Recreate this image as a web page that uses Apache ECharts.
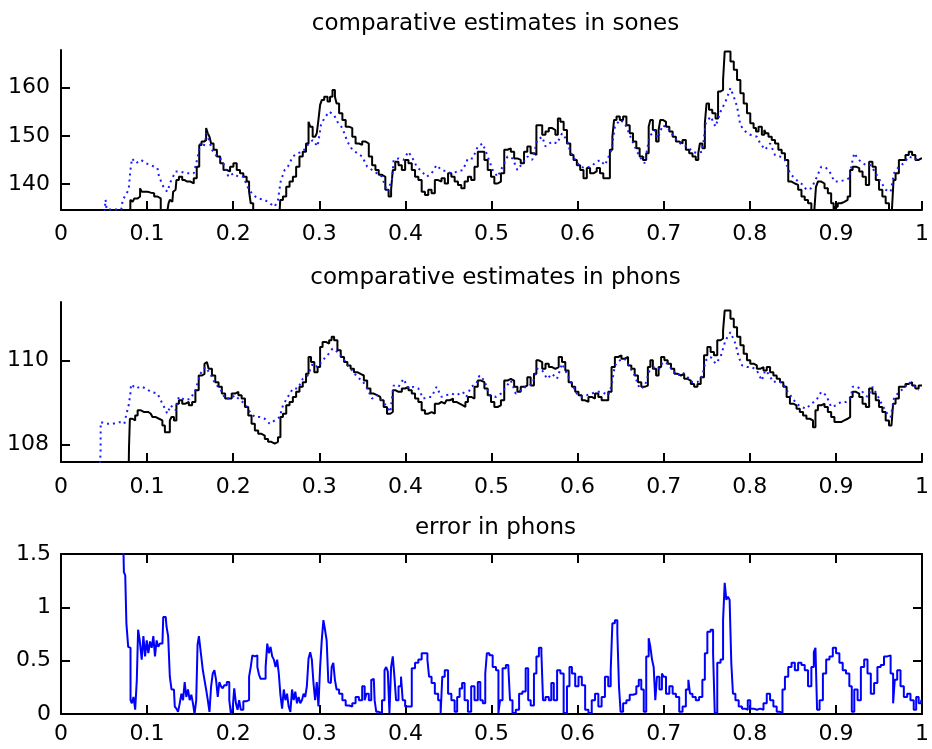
<!DOCTYPE html>
<html>
<head>
<meta charset="utf-8">
<script src="https://cdn.jsdelivr.net/npm/echarts@6/dist/echarts.min.js"></script>
<style>
html,body{margin:0;padding:0;background:#fff;}
#chart{width:932px;height:749px;}
</style>
</head>
<body>
<div id="chart"></div>
<script>
// ---------- data (x in 0..1) ----------
var titles = ['comparative estimates in sones', 'comparative estimates in phons', 'error in phons'];
var xTicks = [0, 0.1, 0.2, 0.3, 0.4, 0.5, 0.6, 0.7, 0.8, 0.9, 1];
var sonesTicks = [140, 150, 160];
var phonsTicks = [108, 110];
var errorTicks = [0, 0.5, 1, 1.5];

var sonesExact = [[0.0805,133],[0.0806,136.7],[0.0832,136.3],[0.0871,137.0],[0.0909,137.4],[0.0928,139.1],[0.0947,138.4],[0.0986,138.4],[0.1024,138.2],[0.1063,138.1],[0.1101,137.4],[0.1139,137.0],[0.1178,134.6],[0.12,133],[0.1245,133],[0.1254,136.0],[0.1274,136.7],[0.1293,136.3],[0.1312,138.4],[0.1331,138.8],[0.135,140.8],[0.1389,141.5],[0.1427,140.8],[0.1446,140.5],[0.1485,140.5],[0.1523,140.1],[0.1561,141.2],[0.1592,143.6],[0.1619,148.1],[0.1646,148.8],[0.1676,149.1],[0.1695,151.6],[0.1715,150.5],[0.1734,149.8],[0.1753,148.4],[0.1791,147.1],[0.183,145.7],[0.1868,144.3],[0.1906,142.9],[0.1945,142.6],[0.1983,143.6],[0.2022,144.3],[0.206,142.9],[0.2098,142.2],[0.2137,141.5],[0.2175,140.5],[0.2194,138.4],[0.2213,136.0],[0.2252,133],[0.2535,133],[0.2558,136.7],[0.2597,137.4],[0.2635,139.4],[0.2674,140.5],[0.2712,141.5],[0.275,143.6],[0.2789,145.7],[0.2827,146.7],[0.2865,148.4],[0.2885,152.9],[0.2904,151.9],[0.2942,149.8],[0.2961,149.5],[0.298,150.5],[0.3,153.3],[0.3019,156.4],[0.3038,157.4],[0.3076,158.1],[0.3115,157.1],[0.3134,158.1],[0.3172,159.5],[0.3191,158.1],[0.3211,156.7],[0.3249,154.7],[0.3287,153.3],[0.3326,151.9],[0.3364,151.6],[0.3402,149.8],[0.3441,148.4],[0.3479,148.1],[0.3517,148.8],[0.3556,148.4],[0.3594,145.7],[0.3633,143.9],[0.3671,142.9],[0.3709,141.9],[0.3748,141.5],[0.3786,138.8],[0.3824,137.4],[0.3844,138.8],[0.3863,142.9],[0.3901,144.6],[0.3939,143.9],[0.3978,142.9],[0.4016,145.0],[0.4055,144.3],[0.4093,142.9],[0.4131,141.5],[0.417,140.8],[0.4208,138.4],[0.4246,137.7],[0.4285,138.8],[0.4323,138.1],[0.4361,140.8],[0.44,140.5],[0.4438,141.2],[0.4476,140.1],[0.4515,142.2],[0.4553,141.5],[0.4591,140.5],[0.463,139.8],[0.4668,139.1],[0.4707,140.5],[0.4745,141.5],[0.4783,140.8],[0.4822,143.6],[0.486,146.7],[0.4898,146.7],[0.4937,145.0],[0.4975,142.9],[0.5014,141.5],[0.5052,140.1],[0.509,140.5],[0.5129,142.2],[0.5167,147.1],[0.5205,147.4],[0.5244,146.7],[0.5282,145.3],[0.532,145.0],[0.5359,144.3],[0.5397,146.7],[0.5435,147.8],[0.5474,146.4],[0.5512,146.0],[0.5531,152.2],[0.557,152.2],[0.5608,150.2],[0.5646,150.9],[0.5685,151.6],[0.5723,151.2],[0.5761,150.2],[0.5781,153.6],[0.5819,152.9],[0.5857,151.2],[0.5896,148.4],[0.5934,146.0],[0.5972,145.0],[0.6011,143.9],[0.6049,142.9],[0.6088,141.2],[0.6126,143.3],[0.6164,142.2],[0.6203,142.6],[0.6241,143.3],[0.6279,142.2],[0.6318,141.2],[0.6356,141.2],[0.6394,147.1],[0.6414,149.8],[0.6433,153.3],[0.6471,154.0],[0.6509,153.3],[0.6548,154.0],[0.6586,152.2],[0.6624,150.5],[0.6663,148.8],[0.6701,147.4],[0.674,145.7],[0.6778,145.0],[0.6816,146.4],[0.6835,151.9],[0.6855,153.3],[0.6893,151.2],[0.6931,148.8],[0.6951,151.2],[0.697,153.3],[0.7008,152.9],[0.7046,151.9],[0.7085,150.9],[0.7123,149.8],[0.7161,148.8],[0.72,148.4],[0.7238,149.1],[0.7277,147.1],[0.7315,146.4],[0.7353,145.7],[0.7392,145.0],[0.7411,146.4],[0.743,148.4],[0.7468,147.4],[0.7488,152.6],[0.7507,156.7],[0.7545,155.4],[0.7583,154.7],[0.7622,153.6],[0.7641,159.2],[0.768,159.5],[0.7699,161.6],[0.7718,167.5],[0.7756,167.5],[0.7795,165.4],[0.7833,163.7],[0.7871,161.6],[0.791,158.8],[0.7948,156.7],[0.7986,154.7],[0.8025,152.6],[0.8063,151.6],[0.8082,150.9],[0.8121,151.9],[0.8159,150.2],[0.8178,151.2],[0.8197,150.5],[0.8236,149.8],[0.8274,149.1],[0.8312,148.4],[0.8351,147.1],[0.8389,146.4],[0.8427,145.0],[0.8466,140.5],[0.8504,140.1],[0.8542,139.8],[0.8581,138.8],[0.8619,137.4],[0.8657,136.7],[0.8696,136.0],[0.8734,134.6],[0.8753,133],[0.8765,133],[0.8772,139.4],[0.881,140.5],[0.8849,140.1],[0.8887,139.1],[0.8926,138.1],[0.8964,136.0],[0.8983,134.6],[0.9002,135.3],[0.9041,136.0],[0.9079,136.3],[0.9117,136.7],[0.9156,137.4],[0.9175,142.9],[0.9214,143.6],[0.9252,143.3],[0.929,142.6],[0.9329,141.5],[0.9367,139.8],[0.9405,144.6],[0.9444,143.6],[0.9482,140.8],[0.952,138.8],[0.9559,137.4],[0.9597,136.0],[0.9636,134.6],[0.9655,133],[0.9665,133],[0.9674,140.8],[0.9712,142.2],[0.9751,145.0],[0.9789,145.0],[0.9827,146.0],[0.9866,146.7],[0.9904,146.0],[0.9942,145.0],[0.9981,145.3],[1.0,145.3]];

var sonesEstimate = [[0.05,133],[0.0518,136.7],[0.053,134.7],[0.07,134.7],[0.0717,136.7],[0.0786,138.8],[0.0806,142.9],[0.0825,145.3],[0.0871,144.3],[0.0928,145.0],[0.0986,144.3],[0.1043,143.9],[0.112,143.3],[0.1139,141.5],[0.1197,139.1],[0.1235,138.4],[0.1274,140.5],[0.1331,142.6],[0.1389,142.6],[0.1446,142.2],[0.1485,142.2],[0.1542,142.2],[0.158,145.0],[0.1619,148.4],[0.1657,147.8],[0.1695,150.5],[0.1753,147.1],[0.1811,145.7],[0.1868,145.0],[0.1945,141.5],[0.2002,142.2],[0.206,141.5],[0.2117,141.5],[0.2175,139.1],[0.2232,137.7],[0.229,137.0],[0.2367,136.7],[0.2424,136.0],[0.2482,135.3],[0.252,136.7],[0.2551,140.5],[0.2597,142.9],[0.2635,143.6],[0.2693,145.7],[0.275,146.4],[0.2808,146.7],[0.2865,148.1],[0.2923,149.1],[0.298,147.8],[0.3019,152.2],[0.3057,153.6],[0.3115,155.0],[0.3172,154.3],[0.3211,152.9],[0.3268,151.6],[0.3326,148.8],[0.3383,147.1],[0.3441,146.4],[0.3498,145.7],[0.3556,143.6],[0.3613,142.9],[0.3671,142.2],[0.3728,141.5],[0.3786,138.4],[0.3844,140.8],[0.3863,145.0],[0.392,145.3],[0.3978,145.0],[0.4035,146.7],[0.4093,145.0],[0.4131,143.6],[0.4189,142.6],[0.4246,141.5],[0.4304,142.2],[0.4361,143.9],[0.4419,142.9],[0.4476,142.6],[0.4534,142.2],[0.4611,142.6],[0.4668,142.9],[0.4726,145.3],[0.4783,145.3],[0.4841,147.8],[0.4898,148.4],[0.4956,145.7],[0.5014,142.9],[0.5071,141.5],[0.5129,143.6],[0.5186,145.7],[0.5244,145.3],[0.5301,142.9],[0.5359,144.3],[0.5416,145.7],[0.5474,145.0],[0.5531,149.1],[0.5589,149.8],[0.5627,147.8],[0.5704,148.8],[0.5761,148.4],[0.5819,150.5],[0.5876,149.1],[0.5915,146.7],[0.5972,145.0],[0.603,143.6],[0.6088,143.3],[0.6145,143.6],[0.6203,144.3],[0.626,145.0],[0.6318,143.9],[0.6394,147.1],[0.6433,151.9],[0.649,153.3],[0.6548,152.6],[0.6605,150.2],[0.6663,147.8],[0.672,145.7],[0.6778,144.3],[0.6835,149.8],[0.6893,151.2],[0.6931,149.5],[0.6989,152.2],[0.7046,151.6],[0.7104,150.2],[0.7161,148.8],[0.7219,148.1],[0.7277,147.8],[0.7334,146.7],[0.7392,146.4],[0.7449,146.7],[0.7488,152.6],[0.7545,154.0],[0.7602,151.9],[0.766,155.0],[0.7718,157.1],[0.7775,159.9],[0.7814,158.1],[0.7852,156.1],[0.789,152.2],[0.7948,150.9],[0.8006,150.2],[0.8082,149.8],[0.8121,148.4],[0.8178,147.1],[0.8236,148.4],[0.8293,146.0],[0.8351,145.7],[0.8408,145.0],[0.8466,142.2],[0.8504,141.5],[0.8562,140.5],[0.8619,139.8],[0.8657,138.8],[0.8715,139.1],[0.8772,141.2],[0.883,143.6],[0.8887,143.3],[0.8926,142.6],[0.8983,140.5],[0.9041,140.5],[0.9098,140.8],[0.9156,141.2],[0.9194,145.0],[0.9214,146.4],[0.9252,145.3],[0.929,144.6],[0.9348,143.9],[0.9405,143.9],[0.9463,142.2],[0.952,140.5],[0.9578,138.8],[0.9636,138.4],[0.9674,142.2],[0.9731,143.6],[0.9789,144.3],[0.9847,145.7],[0.9904,145.3],[0.9962,145.0]];

var phonsExact = [[0.0786,107.4],[0.0794,107.94],[0.0806,108.61],[0.0852,108.57],[0.0871,108.69],[0.0909,108.81],[0.0947,108.77],[0.0986,108.77],[0.1043,108.73],[0.1082,108.65],[0.112,108.61],[0.1158,108.57],[0.1197,108.45],[0.1216,108.29],[0.1254,108.29],[0.1274,108.57],[0.1293,108.65],[0.1331,108.57],[0.135,108.97],[0.1389,109.05],[0.1427,108.97],[0.1465,109.01],[0.1504,108.93],[0.1542,109.01],[0.158,109.29],[0.1619,109.64],[0.1657,109.68],[0.1676,109.92],[0.1695,109.96],[0.1734,109.80],[0.1772,109.64],[0.1811,109.48],[0.1849,109.37],[0.1887,109.21],[0.1926,109.09],[0.1964,109.09],[0.2002,109.21],[0.2041,109.25],[0.2079,109.17],[0.2117,109.09],[0.2156,108.89],[0.2194,108.69],[0.2232,108.49],[0.2271,108.33],[0.2309,108.25],[0.2348,108.21],[0.2386,108.13],[0.2424,108.06],[0.2463,108.02],[0.2501,108.06],[0.2539,108.17],[0.2558,108.65],[0.2597,108.73],[0.2635,108.93],[0.2674,109.01],[0.2712,109.13],[0.275,109.25],[0.2789,109.37],[0.2827,109.48],[0.2865,109.68],[0.2885,110.08],[0.2923,109.96],[0.2961,109.72],[0.3,109.84],[0.3019,110.32],[0.3057,110.44],[0.3095,110.40],[0.3134,110.48],[0.3153,110.56],[0.3191,110.48],[0.323,110.24],[0.3268,110.08],[0.3307,109.96],[0.3345,109.88],[0.3383,109.80],[0.3422,109.72],[0.346,109.68],[0.3498,109.64],[0.3537,109.52],[0.3575,109.33],[0.3613,109.21],[0.3652,109.17],[0.369,109.13],[0.3728,109.05],[0.3767,108.89],[0.3805,108.73],[0.3844,108.77],[0.3863,109.29],[0.3901,109.25],[0.3939,109.25],[0.3978,109.33],[0.4016,109.37],[0.4055,109.29],[0.4093,109.21],[0.4131,109.09],[0.417,109.01],[0.4208,108.81],[0.4246,108.73],[0.4285,108.77],[0.4323,108.73],[0.4361,108.97],[0.4419,109.01],[0.4457,108.97],[0.4496,109.05],[0.4534,109.09],[0.4572,109.01],[0.4611,108.97],[0.4649,108.93],[0.4687,108.89],[0.4707,109.01],[0.4745,109.13],[0.4783,109.09],[0.4822,109.37],[0.486,109.52],[0.4898,109.48],[0.4937,109.33],[0.4975,109.17],[0.5014,109.01],[0.5052,108.89],[0.509,108.93],[0.5129,109.05],[0.5167,109.52],[0.5205,109.56],[0.5244,109.52],[0.5282,109.37],[0.532,109.25],[0.5359,109.37],[0.5397,109.40],[0.5435,109.60],[0.5474,109.40],[0.5512,109.68],[0.5531,110.0],[0.557,109.96],[0.5608,109.80],[0.5646,109.92],[0.5685,109.84],[0.5723,109.80],[0.5761,109.84],[0.58,110.08],[0.5838,109.96],[0.5876,109.76],[0.5915,109.48],[0.5953,109.37],[0.5991,109.25],[0.603,109.17],[0.6068,109.05],[0.6107,109.01],[0.6145,109.13],[0.6183,109.09],[0.6222,109.21],[0.626,109.13],[0.6298,109.05],[0.6337,109.05],[0.6375,109.25],[0.6414,109.84],[0.6452,110.08],[0.649,110.12],[0.6529,110.04],[0.6567,110.08],[0.6605,109.88],[0.6644,109.80],[0.6682,109.64],[0.672,109.48],[0.6759,109.37],[0.6797,109.40],[0.6835,109.84],[0.6855,110.0],[0.6893,109.80],[0.6931,109.64],[0.6951,109.84],[0.6989,110.08],[0.7027,110.0],[0.7066,109.92],[0.7104,109.80],[0.7142,109.68],[0.7181,109.64],[0.7219,109.68],[0.7257,109.56],[0.7296,109.52],[0.7334,109.44],[0.7373,109.37],[0.7411,109.44],[0.7449,109.60],[0.7488,110.12],[0.7526,110.32],[0.7564,110.20],[0.7603,110.12],[0.7641,110.48],[0.768,110.52],[0.7699,110.71],[0.7718,111.19],[0.7756,111.19],[0.7795,110.99],[0.7833,110.79],[0.7871,110.56],[0.791,110.36],[0.7948,110.16],[0.7986,110.0],[0.8025,109.92],[0.8063,109.88],[0.8101,109.80],[0.814,109.84],[0.8178,109.76],[0.8216,109.84],[0.8255,109.72],[0.8293,109.64],[0.8332,109.56],[0.837,109.48],[0.8408,109.37],[0.8447,109.13],[0.8485,108.97],[0.8523,108.93],[0.8562,108.85],[0.86,108.77],[0.8638,108.69],[0.8677,108.61],[0.8715,108.57],[0.8753,108.41],[0.8772,108.81],[0.881,108.93],[0.8849,108.97],[0.8887,108.89],[0.8926,108.77],[0.8964,108.65],[0.9002,108.53],[0.9041,108.53],[0.9079,108.57],[0.9117,108.61],[0.9156,108.65],[0.9175,109.13],[0.9214,109.25],[0.9252,109.21],[0.929,109.13],[0.9329,108.97],[0.9367,108.89],[0.9405,109.33],[0.9444,109.21],[0.9482,109.05],[0.952,108.89],[0.9559,108.77],[0.9597,108.57],[0.9636,108.45],[0.9655,108.49],[0.9674,108.97],[0.9712,109.09],[0.9751,109.37],[0.9789,109.37],[0.9827,109.44],[0.9866,109.48],[0.9904,109.40],[0.9942,109.33],[0.9981,109.40],[1.0,109.40]];

var phonsEstimate = [[0.0449,107.4],[0.046,107.82],[0.0461,108.53],[0.0526,108.49],[0.0602,108.49],[0.0679,108.53],[0.0736,108.49],[0.0756,108.69],[0.0786,108.93],[0.0806,109.21],[0.0813,109.43],[0.0871,109.33],[0.0928,109.38],[0.0986,109.33],[0.1043,109.25],[0.112,109.21],[0.1178,108.97],[0.1235,108.73],[0.1274,108.93],[0.1331,108.81],[0.1369,109.13],[0.1446,109.05],[0.1504,109.09],[0.1561,109.29],[0.1619,109.68],[0.1676,109.84],[0.1734,109.68],[0.1791,109.44],[0.1849,109.33],[0.1906,109.09],[0.1964,109.09],[0.2021,109.17],[0.2079,109.05],[0.2137,108.97],[0.2194,108.77],[0.2252,108.65],[0.2309,108.65],[0.2367,108.61],[0.2424,108.49],[0.2482,108.57],[0.2539,108.65],[0.2578,108.93],[0.2635,109.13],[0.2693,109.33],[0.275,109.33],[0.2808,109.56],[0.2865,109.64],[0.2923,109.92],[0.298,109.84],[0.3038,110.0],[0.3095,110.12],[0.3153,110.28],[0.3211,110.20],[0.3268,110.08],[0.3326,109.88],[0.3383,109.76],[0.3441,109.60],[0.3498,109.52],[0.3556,109.33],[0.3613,109.09],[0.3671,109.17],[0.3728,109.05],[0.3786,108.89],[0.3824,108.77],[0.3863,109.40],[0.392,109.37],[0.3978,109.56],[0.4035,109.33],[0.4093,109.37],[0.415,109.33],[0.4208,109.09],[0.4265,109.13],[0.4304,109.13],[0.4361,109.37],[0.4419,109.13],[0.4476,109.17],[0.4534,109.21],[0.4591,109.17],[0.4668,109.25],[0.4707,109.13],[0.4764,109.37],[0.4822,109.44],[0.486,109.64],[0.4918,109.52],[0.4975,109.17],[0.5052,109.13],[0.511,109.21],[0.5167,109.37],[0.5225,109.52],[0.5282,109.21],[0.534,109.29],[0.5397,109.37],[0.5474,109.44],[0.5531,109.80],[0.5589,109.76],[0.5646,109.56],[0.5704,109.68],[0.5761,109.56],[0.5819,109.92],[0.5876,109.68],[0.5934,109.44],[0.5991,109.21],[0.6049,109.13],[0.6107,109.17],[0.6164,109.21],[0.6222,109.25],[0.6279,109.25],[0.6356,109.17],[0.6394,109.40],[0.6433,109.88],[0.649,110.0],[0.6548,110.04],[0.6605,109.84],[0.6663,109.64],[0.672,109.33],[0.6778,109.37],[0.6835,109.76],[0.6893,109.84],[0.6951,109.80],[0.6989,109.96],[0.7046,109.92],[0.7104,109.76],[0.7161,109.64],[0.7219,109.72],[0.7277,109.60],[0.7334,109.48],[0.7392,109.48],[0.7449,109.64],[0.7488,110.0],[0.7545,110.08],[0.7603,109.92],[0.766,110.08],[0.7718,110.48],[0.7775,110.67],[0.7833,110.40],[0.7871,110.08],[0.791,109.88],[0.7967,109.84],[0.8025,109.84],[0.8082,109.76],[0.814,109.52],[0.8178,109.76],[0.8216,109.68],[0.8274,109.48],[0.8332,109.52],[0.8389,109.44],[0.8427,109.29],[0.8485,109.13],[0.8542,108.97],[0.86,108.89],[0.8657,108.85],[0.8715,108.97],[0.8772,109.05],[0.883,109.25],[0.8887,109.17],[0.8945,108.89],[0.9002,108.93],[0.906,109.01],[0.9117,109.01],[0.9175,109.13],[0.9194,109.37],[0.9252,109.37],[0.9309,109.25],[0.9367,109.13],[0.9425,109.37],[0.9482,109.17],[0.954,108.93],[0.9597,108.73],[0.9636,108.65],[0.9674,109.09],[0.9731,109.25],[0.9789,109.33],[0.9847,109.48],[0.9904,109.40],[0.9962,109.29]];

var errorPhons = [[0.0725,1.55],[0.0736,1.33],[0.0756,1.30],[0.0763,0.85],[0.0775,0.85],[0.0786,0.63],[0.0802,0.62],[0.0813,0.13],[0.0832,0.10],[0.0852,0.16],[0.0871,0.04],[0.089,0.32],[0.0901,0.79],[0.0928,0.69],[0.0947,0.51],[0.0967,0.73],[0.0986,0.54],[0.1005,0.69],[0.1024,0.57],[0.1043,0.68],[0.1063,0.62],[0.1082,0.73],[0.1101,0.54],[0.112,0.69],[0.1139,0.63],[0.1158,0.66],[0.1178,0.66],[0.1197,0.91],[0.1216,0.91],[0.1235,0.82],[0.1254,0.73],[0.1274,0.35],[0.1293,0.23],[0.1312,0.23],[0.1331,0.07],[0.135,0.05],[0.1369,0.02],[0.1389,0.10],[0.1408,0.19],[0.1427,0.13],[0.1446,0.30],[0.1465,0.16],[0.1485,0.23],[0.1504,0.13],[0.1523,0.18],[0.1542,0.10],[0.1561,0.0],[0.158,0.13],[0.1592,0.65],[0.1611,0.73],[0.1638,0.57],[0.1657,0.41],[0.1676,0.32],[0.1695,0.23],[0.1715,0.13],[0.1734,0.02],[0.1753,0.26],[0.1772,0.38],[0.1791,0.41],[0.1811,0.32],[0.183,0.16],[0.1849,0.30],[0.1868,0.26],[0.1887,0.24],[0.1906,0.27],[0.1945,0.30],[0.1964,0.13],[0.1983,0.0],[0.2002,0.04],[0.2022,0.24],[0.2041,0.10],[0.206,0.04],[0.2079,0.13],[0.2098,0.04],[0.2137,0.12],[0.2175,0.13],[0.2194,0.35],[0.2213,0.44],[0.2232,0.55],[0.2252,0.54],[0.2271,0.55],[0.229,0.44],[0.2309,0.37],[0.2328,0.33],[0.2367,0.33],[0.2386,0.44],[0.2405,0.66],[0.2424,0.57],[0.2443,0.63],[0.2463,0.54],[0.2482,0.51],[0.2501,0.44],[0.252,0.51],[0.2539,0.38],[0.2558,0.18],[0.2578,0.05],[0.2597,0.23],[0.2616,0.13],[0.2635,0.19],[0.2654,0.07],[0.2674,0.02],[0.2693,0.23],[0.2712,0.13],[0.2731,0.21],[0.275,0.10],[0.277,0.16],[0.2789,0.10],[0.2808,0.13],[0.2827,0.19],[0.2846,0.16],[0.2865,0.26],[0.2885,0.52],[0.2904,0.58],[0.2923,0.51],[0.2942,0.29],[0.2961,0.13],[0.298,0.30],[0.3,0.07],[0.3019,0.44],[0.3038,0.69],[0.3057,0.88],[0.3076,0.79],[0.3095,0.69],[0.3115,0.30],[0.3134,0.29],[0.3153,0.44],[0.3172,0.48],[0.3191,0.32],[0.3211,0.23],[0.3249,0.19],[0.3287,0.13],[0.3326,0.08],[0.3364,0.07],[0.3402,0.10],[0.3441,0.16],[0.3479,0.13],[0.3517,0.26],[0.3537,0.13],[0.3556,0.19],[0.3594,0.13],[0.3613,0.32],[0.3633,0.33],[0.3652,0.13],[0.3671,0.02],[0.3709,0.01],[0.3748,0.13],[0.3767,0.41],[0.3786,0.44],[0.3805,0.40],[0.3824,0.01],[0.3844,0.44],[0.3863,0.54],[0.3882,0.35],[0.3901,0.13],[0.3939,0.26],[0.3959,0.35],[0.3978,0.13],[0.4016,0.07],[0.4055,0.07],[0.4093,0.43],[0.4131,0.48],[0.417,0.51],[0.4208,0.57],[0.4246,0.57],[0.4265,0.51],[0.4285,0.35],[0.4323,0.29],[0.4361,0.19],[0.44,0.13],[0.4419,0.01],[0.4438,0.35],[0.4476,0.41],[0.4515,0.19],[0.4553,0.13],[0.4591,0.02],[0.4611,0.16],[0.4649,0.24],[0.4668,0.29],[0.4707,0.13],[0.4745,0.02],[0.4783,0.26],[0.4822,0.13],[0.486,0.30],[0.488,0.13],[0.4918,0.10],[0.4937,0.38],[0.4956,0.57],[0.4994,0.55],[0.5033,0.44],[0.5071,0.41],[0.509,0.01],[0.5109,0.13],[0.5148,0.43],[0.5186,0.46],[0.5205,0.44],[0.5225,0.13],[0.5263,0.01],[0.5301,0.04],[0.534,0.19],[0.5378,0.21],[0.5416,0.43],[0.5436,0.13],[0.5474,0.08],[0.5512,0.38],[0.5531,0.54],[0.557,0.62],[0.5589,0.57],[0.5608,0.13],[0.5646,0.16],[0.5685,0.13],[0.5704,0.29],[0.5743,0.13],[0.5781,0.41],[0.5819,0.38],[0.5857,0.01],[0.5896,0.26],[0.5915,0.44],[0.5953,0.38],[0.5991,0.26],[0.603,0.35],[0.6068,0.27],[0.6107,0.04],[0.6145,0.01],[0.6183,0.13],[0.6222,0.19],[0.626,0.07],[0.6298,0.16],[0.6337,0.35],[0.6375,0.26],[0.6394,0.41],[0.6414,0.85],[0.6452,0.88],[0.6471,0.76],[0.649,0.26],[0.6509,0.02],[0.6548,0.10],[0.6586,0.13],[0.6624,0.18],[0.6663,0.19],[0.6701,0.26],[0.672,0.32],[0.6759,0.23],[0.6778,0.02],[0.6816,0.54],[0.6835,0.71],[0.6855,0.63],[0.6874,0.51],[0.6893,0.44],[0.6912,0.13],[0.6931,0.35],[0.697,0.23],[0.6989,0.38],[0.7008,0.35],[0.7046,0.19],[0.7085,0.26],[0.7123,0.19],[0.7161,0.16],[0.72,0.02],[0.7238,0.07],[0.7277,0.23],[0.7296,0.32],[0.7315,0.19],[0.7353,0.16],[0.7392,0.13],[0.743,0.16],[0.7468,0.32],[0.7488,0.57],[0.7526,0.77],[0.7564,0.79],[0.7583,0.57],[0.7603,0.01],[0.7641,0.48],[0.768,0.51],[0.7699,0.88],[0.7718,1.23],[0.7737,1.07],[0.7756,1.10],[0.7775,1.07],[0.7795,0.48],[0.7814,0.19],[0.7852,0.13],[0.789,0.07],[0.7929,0.05],[0.7967,0.04],[0.7986,0.13],[0.8025,0.05],[0.8063,0.04],[0.8101,0.05],[0.814,0.04],[0.8178,0.10],[0.8216,0.19],[0.8255,0.13],[0.8293,0.07],[0.8332,0.02],[0.837,0.01],[0.8389,0.23],[0.8427,0.35],[0.8466,0.44],[0.8504,0.48],[0.8542,0.41],[0.8581,0.48],[0.8619,0.46],[0.8657,0.41],[0.8696,0.26],[0.8734,0.44],[0.8753,0.58],[0.8772,0.62],[0.8791,0.04],[0.883,0.13],[0.8868,0.38],[0.8906,0.51],[0.8945,0.54],[0.8983,0.62],[0.9021,0.57],[0.906,0.48],[0.9098,0.41],[0.9137,0.38],[0.9175,0.26],[0.9194,0.02],[0.9233,0.23],[0.9271,0.13],[0.9309,0.44],[0.9348,0.51],[0.9386,0.38],[0.9425,0.19],[0.9463,0.29],[0.9501,0.44],[0.954,0.46],[0.9578,0.54],[0.9616,0.55],[0.9655,0.38],[0.9674,0.10],[0.9693,0.32],[0.9731,0.41],[0.977,0.26],[0.9808,0.16],[0.9847,0.19],[0.9885,0.13],[0.9923,0.04],[0.9942,0.16],[0.9981,0.10],[1.0,0.13]];

// ---------- chart ----------
var FONT = 'DejaVu Sans';
var BLACK = '#000000';

function labelStyle(margin, extra) {
  var o = { show: true, color: BLACK, fontFamily: FONT, fontSize: 22, margin: margin };
  if (extra) for (var k in extra) o[k] = extra[k];
  return o;
}
var lineStyleAxis = { color: BLACK, width: 2 };
var tickStyle = { show: true, inside: true, length: 9, lineStyle: { color: BLACK, width: 2 } };

function xAxisFor(grid, margin, position, showLabel) {
  return {
    type: 'value', gridIndex: grid, min: 0, max: 1, interval: 0.1,
    position: position || 'bottom',
    axisLine: { show: true, onZero: false, lineStyle: lineStyleAxis },
    axisTick: tickStyle,
    axisLabel: showLabel === false ? { show: false } : labelStyle(margin),
    splitLine: { show: false }
  };
}

var chart = echarts.init(document.getElementById('chart'), null, { renderer: 'canvas' });

function titleFor(i, top) {
  return { text: titles[i], left: 495.5, top: top, textAlign: 'center', padding: 0,
    textStyle: { fontFamily: FONT, fontSize: 23, fontWeight: 'normal', color: BLACK } };
}

var option = {
  animation: false,
  backgroundColor: '#ffffff',
  title: [ titleFor(0, 13), titleFor(1, 267), titleFor(2, 517) ],
  grid: [
    { left: 61, top: 50, width: 869, height: 160, show: false },
    { left: 61, top: 302, width: 869, height: 160, show: false },
    { left: 61, top: 554, width: 869, height: 160, show: false }
  ],
  xAxis: [
    xAxisFor(0, 13),
    xAxisFor(1, 14),
    xAxisFor(2, 9),
    xAxisFor(2, 0, 'top', false)
  ],
  yAxis: [
    {
      type: 'value', gridIndex: 0, min: 134.6, max: 167.8,
      axisLine: { show: true, onZero: false, lineStyle: lineStyleAxis },
      axisTick: { show: true, inside: true, length: 9, lineStyle: { color: BLACK, width: 2 }, customValues: sonesTicks },
      axisLabel: labelStyle(11, { customValues: sonesTicks }),
      splitLine: { show: false }
    },
    {
      type: 'value', gridIndex: 1, min: 107.58, max: 111.39,
      axisLine: { show: true, onZero: false, lineStyle: lineStyleAxis },
      axisTick: { show: true, inside: true, length: 9, lineStyle: { color: BLACK, width: 2 }, customValues: phonsTicks },
      axisLabel: labelStyle(12, { customValues: phonsTicks }),
      splitLine: { show: false }
    },
    {
      type: 'value', gridIndex: 2, min: 0, max: 1.5, interval: 0.5,
      axisLine: { show: true, onZero: false, lineStyle: lineStyleAxis },
      axisTick: tickStyle,
      axisLabel: labelStyle(10, { customValues: errorTicks }),
      splitLine: { show: false }
    },
    {
      type: 'value', gridIndex: 2, min: 0, max: 1.5, interval: 0.5, position: 'right',
      axisLine: { show: true, onZero: false, lineStyle: lineStyleAxis },
      axisTick: tickStyle,
      axisLabel: { show: false },
      splitLine: { show: false }
    }
  ],
  series: [
    { type: 'line', xAxisIndex: 0, yAxisIndex: 0, data: sonesExact, showSymbol: false, symbol: 'none', step: 'middle',
      lineStyle: { color: BLACK, width: 2 }, clip: true, z: 2 },
    { type: 'line', xAxisIndex: 0, yAxisIndex: 0, data: sonesEstimate, showSymbol: false, symbol: 'none',
      lineStyle: { color: '#1a1aff', width: 2, type: [2, 4] }, clip: true, z: 3 },
    { type: 'line', xAxisIndex: 1, yAxisIndex: 1, data: phonsExact, showSymbol: false, symbol: 'none', step: 'middle',
      lineStyle: { color: BLACK, width: 2 }, clip: true, z: 2 },
    { type: 'line', xAxisIndex: 1, yAxisIndex: 1, data: phonsEstimate, showSymbol: false, symbol: 'none',
      lineStyle: { color: '#1a1aff', width: 2, type: [2, 4] }, clip: true, z: 3 },
    { type: 'line', xAxisIndex: 2, yAxisIndex: 2, data: errorPhons, showSymbol: false, symbol: 'none', step: 'middle',
      lineStyle: { color: '#0000ff', width: 2 }, clip: true, z: 2 }
  ]
};
chart.setOption(option);
</script>
</body>
</html>
